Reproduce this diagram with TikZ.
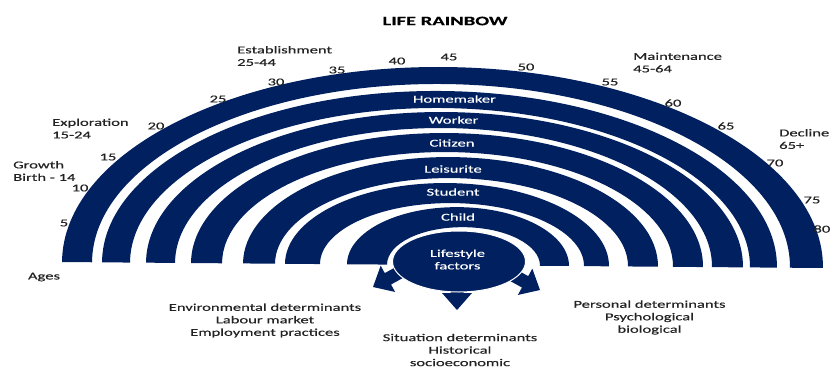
\documentclass[tikz,border=0pt]{standalone}
\usepackage{fontspec}
\setmainfont[FakeStretch=1.58,FakeBold=0.4]{Carlito}
\usetikzlibrary{shapes.geometric}
\definecolor{navy}{RGB}{0,32,96}
\definecolor{ink}{RGB}{35,35,35}
\newcommand\rbband[6]{%
  \fill[navy] ({#1-#2},265) arc[start angle=180,end angle=0,x radius=#2pt,y radius=#3pt]
    -- ({#4+#5},265) arc[start angle=0,end angle=180,x radius=#5pt,y radius=#6pt] -- cycle;}
\newcommand\blockarr[3]{%
  \begin{scope}[shift={(#1,#2)},rotate=#3]
    \fill[navy] (0,0) -- (-17,-15) -- (-17,-6.5) -- (-46,-6.5) -- (-46,6.5) -- (-17,6.5) -- (-17,15) -- cycle;
  \end{scope}}
\tikzset{
  lbl/.style={font=\fontsize{10.5}{12.5}\selectfont, text=ink, inner sep=0pt},
  lleft/.style={lbl, anchor=west, align=left},
  lcent/.style={lbl, align=center},
  bandlbl/.style={lbl, text=white},
}
\begin{document}
\begin{tikzpicture}[x=1pt,y=-1pt]
\useasboundingbox (0,0) rectangle (831,370);
\begin{scope}[rotate around={-0.45:(442,265)}]
\rbband{442.5}{380.5}{198}{441}{349}{181}
\rbband{439.5}{337.5}{174}{440}{310}{157}
\rbband{444.5}{298.5}{153}{443.5}{268.5}{137}
\rbband{447}{256}{132}{447.5}{225.5}{113}
\rbband{450.5}{207.5}{108}{451.5}{176.5}{87}
\rbband{447}{162}{82}{452}{132}{62}
\rbband{458}{111}{58}{463.5}{76.5}{38}
\end{scope}
% arrows
\blockarr{373}{287}{208.8}
\blockarr{457}{310}{-90}
\blockarr{540}{290}{-28.8}
\node[ellipse, fill=navy, draw=white, line width=1pt, minimum width=133pt, minimum height=61pt, inner sep=0pt] (life) at (459,261.5) {};
\node[bandlbl, align=center] (lifetxt) at (457.5,259.5) {Lifestyle\\factors};
% band labels
\node[bandlbl] (home) at (454.5,99) {Homemaker};
\node[bandlbl] (work) at (453.5,120) {Worker};
\node[bandlbl] (citi) at (452,143) {Citizen};
\node[bandlbl] (leis) at (453,169) {Leisurite};
\node[bandlbl] (stud) at (453,192) {Student};
\node[bandlbl] (chil) at (458,217) {Child};
% title
\node[lbl, font=\fontsize{13}{15}\selectfont\bfseries, text=black] (title) at (445,21) {LIFE RAINBOW};
% stages
\node[lleft] (est) at (237,56) {Establishment\\25-44};
\node[lleft] (expl) at (52,128.5) {Exploration\\15-24};
\node[lleft] (grow) at (13,171) {Growth\\Birth - 14};
\node[lleft] (maint) at (633,62.5) {Maintenance\\45-64};
\node[lleft] (decl) at (779,139) {Decline\\65+};
% ages
\node[lbl] (n5) at (64,223) {5};
\node[lbl] (n10) at (80,188) {10};
\node[lbl] (n15) at (108,157) {15};
\node[lbl] (n20) at (156,126) {20};
\node[lbl] (n25) at (218,99) {25};
\node[lbl] (n30) at (276,82) {30};
\node[lbl] (n35) at (337,70) {35};
\node[lbl] (n40) at (397,61) {40};
\node[lbl] (n45) at (449,57) {45};
\node[lbl] (n50) at (526,67) {50};
\node[lbl] (n55) at (610,82) {55};
\node[lbl] (n60) at (673,103) {60};
\node[lbl] (n65) at (726,126) {65};
\node[lbl] (n70) at (775,163) {70};
\node[lbl] (n75) at (812,200) {75};
\node[lbl, anchor=east] (n80) at (830.5,229) {80};
\node[lbl] (ages) at (44,277) {Ages};
% determinants
\node[lcent] (env) at (265,320.5) {Environmental determinants\\Labour market\\Employment practices};
\node[lcent] (sit) at (460,350) {Situation determinants\\Historical\\socioeconomic};
\node[lcent] (pers) at (649.5,317.5) {Personal determinants\\Psychological\\biological};
\end{tikzpicture}
\end{document}
